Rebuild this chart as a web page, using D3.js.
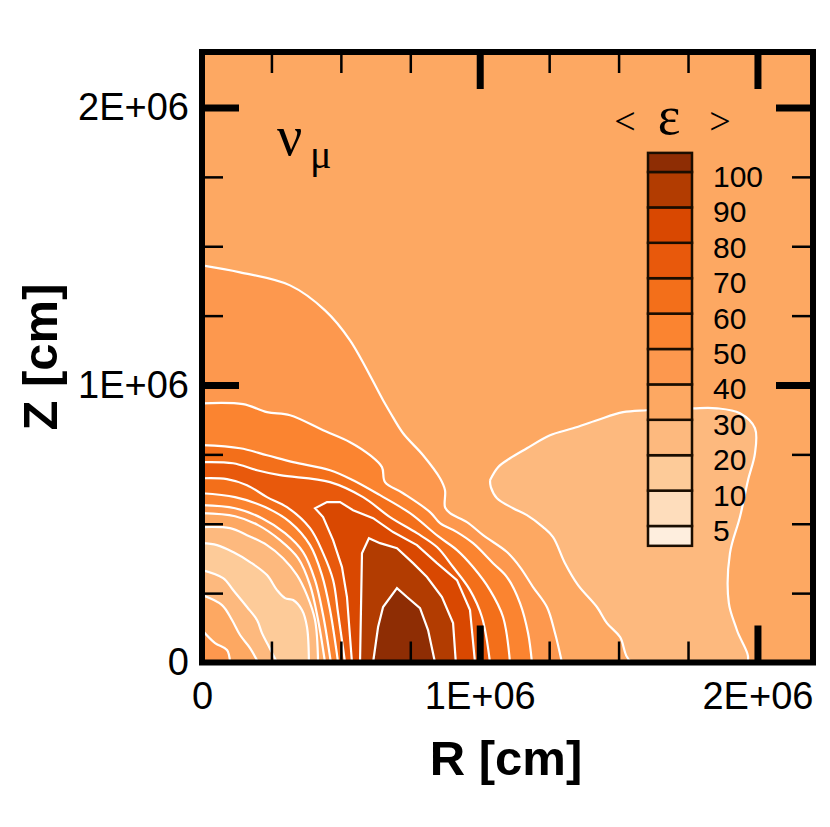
<!DOCTYPE html>
<html>
<head>
<meta charset="utf-8">
<script src="https://cdn.jsdelivr.net/npm/d3@7"></script>
<style>
  html, body { margin: 0; padding: 0; background: #fff; }
  svg { display: block; }
  text { font-family: "Liberation Sans", Arial, sans-serif; fill: #000; }
</style>
</head>
<body>
<div id="chart"></div>
<script>
// all contour points are [R, Z] in units of 1E+04 cm
var contour40Outer = [[0,143.1],[13.7,140.6],[31.7,135.9],[44.3,126.9],[53.3,116.1],[65.2,94.5],[67.7,90.2],[72.4,82.6],[79.6,74.7],[85.7,66.4],[87.5,62.1],[87.5,56],[89.3,53.8],[95.4,50.6],[101.2,45.9],[109.8,39.8],[114.5,34.4],[119.2,27.2],[124.2,20],[127.1,10.6],[129.6,0]];
var contour50Outer = [[0,93.4],[14.8,93.1],[23.4,90.2],[31.7,89.1],[43.6,83.7],[53.3,79.4],[60.5,74.7],[64.8,70.4],[65.9,65],[72.4,61],[82.1,54.2],[85.7,50.2],[91.8,47],[97.6,43],[104.8,35.8],[109.8,30.8],[114.5,21.4],[117.4,10.6],[118.8,0]];
var contour60Outer = [[0,78.3],[13.7,77.2],[23.4,74.7],[32.8,72.2],[46.1,69.3],[54.4,65.7],[64.1,60.3],[74.9,53.8],[85,45.5],[91.8,40.5],[97.6,34.4],[103.7,26.1],[108.4,16.4],[110.9,0]];
var contour70Outer = [[0,72.2],[11.2,71.8],[19.8,69.3],[28.1,67.5],[46.1,65],[58,59.6],[67.7,52.4],[77.4,46.6],[84.6,41.6],[90.4,34.4],[96.5,26.1],[100.8,16.4],[103.7,0]];
var contour70Inner = [[0,66.4],[9,66.1],[16.2,63.9],[23.4,59.6],[30.6,56],[38.9,48.4],[43.6,39.4],[47.2,29.7],[49,17.8],[51.5,0]];
var contour60Inner = [[0,61],[11.9,59.6],[22.7,56],[31.7,50.6],[38.9,42.3],[43.2,31.5],[46.1,18.9],[49,0]];
var contour50Inner = [[0,56.7],[11.9,55.6],[21.6,52],[29.9,46.6],[36.4,39.8],[40.7,29.7],[43.6,17.1],[46.4,0]];
var contour40Inner = [[0,53.8],[11.9,52.7],[20.2,49.5],[28.1,44.1],[34.6,37.6],[38.9,27.9],[41.8,15.3],[44.3,0]];
var contour30Inner = [[0,48.8],[10.1,48.4],[16.2,45.9],[23.4,42.3],[29.2,37.6],[34.2,31.5],[37.8,24.3],[40.7,15.3],[41.8,0]];
var contour20Inner = [[0,43],[5.4,42.3],[11.2,39.8],[17.3,36.2],[23.4,31.5],[27,26.1],[29.9,23.2],[32.8,22.5],[36,18.9],[37.8,12.8],[38.5,0]];
var contour20Core = [[0,33.3],[7.6,30.4],[11.2,26.1],[16.2,20],[19.8,15.3],[21.6,10.6],[23.8,6.3],[27,0]];
var contour30Core = [[0,24.3],[7.2,20.7],[10.8,15.3],[13.7,9.9],[17.3,5.2],[20.2,0]];
var contour40Core = [[0,11.7],[4.7,7],[9,4.5],[10.1,0]];
var contour80 = [[54,0],[52.2,23.6],[50.4,34.4],[47.2,44.1],[43.6,52.4],[40.7,55.6],[45,57.8],[49.7,57.8],[54.4,54.9],[61.6,52],[68.8,47],[77.4,42.3],[84.6,35.8],[91.8,29.7],[96.5,18.9],[98.3,0]];
var contour90 = [[56.9,0],[57.6,39.4],[60.1,44.8],[64.1,43],[70.2,41.2],[76,35.8],[81,30.8],[86.4,23.6],[90.4,14.2],[91.4,0]];
var contour100 = [[61.6,0],[63.4,12.8],[65.2,20],[70.2,26.8],[73.8,23.6],[78.5,19.6],[81.4,11.7],[83.9,0]];
var contour30Island = [[103.7,65.7],[106.6,70.4],[110.9,73.6],[117,77.2],[125.3,81.9],[133.6,84.4],[142.2,87.3],[151.6,90.2],[160.2,90.9],[176.8,91.6],[185.4,91.6],[193.7,89.8],[199.1,84.4],[199.1,75.4],[196.6,65.7],[193.7,52.4],[190.1,39.4],[189.7,21.4],[192.6,11.7],[196.2,0],[154.8,0],[150.5,9.2],[145.8,14.2],[142.2,20],[135.4,27.9],[130.7,35.8],[126.4,45.2],[122.8,48.8],[117,53.1],[112,55.6],[106.2,59.2],[104,63.2],[103.7,65.7]];

// colour bar, bottom to top
var levels = [5, 10, 20, 30, 40, 50, 60, 70, 80, 90, 100];
var bandColors = ['#feeede', '#feddbc', '#fdcb99', '#fdb97e', '#fda862', '#fd984e', '#fb8430', '#f36f1a', '#e8590c', '#d94801', '#b23c01', '#8e2d04'];

var majorTicks = [100, 200];
var minorTicks = [25, 50, 75, 125, 150, 175];
var labelTicks = [0, 100, 200];
var tickLabels = ['0', '1E+06', '2E+06'];

var svgWidth = 830;
var svgHeight = 827;
var plot = { left: 202, right: 813, top: 52, bottom: 662.5 };

var xScale = d3.scaleLinear().domain([0, 220]).range([plot.left, plot.right]);
var yScale = d3.scaleLinear().domain([0, 220]).range([plot.bottom, plot.top]);

var svg = d3.select('#chart')
  .append('svg')
  .attr('width', svgWidth)
  .attr('height', svgHeight);

svg.append('clipPath').attr('id', 'plotClip')
  .append('rect')
  .attr('x', plot.left)
  .attr('y', plot.top)
  .attr('width', plot.right - plot.left)
  .attr('height', plot.bottom - plot.top);

var field = svg.append('g').attr('clip-path', 'url(#plotClip)');

// background band is 30-40
field.append('rect')
  .attr('x', plot.left)
  .attr('y', plot.top)
  .attr('width', plot.right - plot.left)
  .attr('height', plot.bottom - plot.top)
  .attr('fill', bandColors[4]);

var roundLine = d3.line().x(d => xScale(d[0])).y(d => yScale(d[1])).curve(d3.curveCatmullRom.alpha(0.5));
var sharpLine = d3.line().x(d => xScale(d[0])).y(d => yScale(d[1]));

// painted from the outside in, the outer contours close at the origin
function drawRegion(points, band, closeAtOrigin, lineGen) {
  var outline = lineGen(points);
  var ring = closeAtOrigin ? outline + `L${xScale(0)},${yScale(0)}Z` : outline + 'Z';
  field.append('path')
    .attr('d', ring)
    .attr('fill', bandColors[band]);
  field.append('path')
    .attr('d', outline)
    .attr('fill', 'none')
    .attr('stroke', '#fff')
    .attr('stroke-width', 2.2);
}

drawRegion(contour40Outer, 5, true, roundLine);
drawRegion(contour50Outer, 6, true, roundLine);
drawRegion(contour60Outer, 7, true, roundLine);
drawRegion(contour70Outer, 8, true, roundLine);
drawRegion(contour70Inner, 7, true, roundLine);
drawRegion(contour60Inner, 6, true, roundLine);
drawRegion(contour50Inner, 5, true, roundLine);
drawRegion(contour40Inner, 4, true, roundLine);
drawRegion(contour30Inner, 3, true, roundLine);
drawRegion(contour20Inner, 2, true, roundLine);
drawRegion(contour20Core, 3, true, roundLine);
drawRegion(contour30Core, 4, true, roundLine);
drawRegion(contour40Core, 5, true, roundLine);
drawRegion(contour80, 9, false, sharpLine);
drawRegion(contour90, 10, false, sharpLine);
drawRegion(contour100, 11, false, sharpLine);
drawRegion(contour30Island, 3, false, roundLine);

// ticks point inward on all four sides
function drawTicks(axis, translate, values, size, width) {
  var g = svg.append('g')
    .attr('transform', translate)
    .call(axis.tickValues(values).tickSize(-size).tickFormat(''));
  g.select('.domain').remove();
  g.selectAll('line').attr('stroke', '#000').attr('stroke-width', width);
}

var sides = [
  [d3.axisBottom(xScale), `translate(0, ${plot.bottom})`],
  [d3.axisTop(xScale), `translate(0, ${plot.top})`],
  [d3.axisLeft(yScale), `translate(${plot.left}, 0)`],
  [d3.axisRight(yScale), `translate(${plot.right}, 0)`]
];
sides.forEach(function(side) {
  drawTicks(side[0], side[1], minorTicks, 21, 2.5);
  drawTicks(side[0], side[1], majorTicks, 37, 7);
});

svg.append('rect')
  .attr('x', plot.left)
  .attr('y', plot.top)
  .attr('width', plot.right - plot.left)
  .attr('height', plot.bottom - plot.top)
  .attr('fill', 'none')
  .attr('stroke', '#000')
  .attr('stroke-width', 6);

// tick labels
var xLabels = svg.append('g')
  .attr('transform', `translate(0, ${plot.bottom})`)
  .call(d3.axisBottom(xScale).tickValues(labelTicks).tickSize(0).tickPadding(20)
    .tickFormat((d, i) => tickLabels[i]));
var yLabels = svg.append('g')
  .attr('transform', `translate(${plot.left}, 0)`)
  .call(d3.axisLeft(yScale).tickValues(labelTicks).tickSize(0).tickPadding(13)
    .tickFormat((d, i) => tickLabels[i]));
[xLabels, yLabels].forEach(function(g) {
  g.select('.domain').remove();
  g.selectAll('text')
    .style('font-family', '"Liberation Sans", Arial, sans-serif')
    .style('font-size', '38px');
});

// axis titles
svg.append('text')
  .attr('x', 506)
  .attr('y', 775)
  .attr('text-anchor', 'middle')
  .style('font-size', '49px')
  .style('font-weight', 'bold')
  .text('R [cm]');

svg.append('text')
  .attr('transform', 'translate(57, 357) rotate(-90)')
  .attr('text-anchor', 'middle')
  .style('font-size', '49px')
  .style('font-weight', 'bold')
  .text('Z [cm]');

// species label
svg.append('text')
  .attr('x', 277)
  .attr('y', 155)
  .style('font-family', '"Liberation Serif", serif')
  .style('font-size', '56px')
  .text('ν');
svg.append('text')
  .attr('x', 310)
  .attr('y', 168)
  .style('font-family', '"Liberation Serif", serif')
  .style('font-size', '40px')
  .text('μ');

// colour bar
var barLeft = 648;
var barWidth = 44;
var barScale = d3.scalePoint().domain(levels).range([526, 172]);
var barStep = barScale.step();
var barEdges = [526 + barStep * 0.56].concat(levels.map(d => barScale(d))).concat([172 - barStep * 0.54]);

svg.append('g')
  .selectAll('rect')
  .data(bandColors)
  .enter()
  .append('rect')
  .attr('x', barLeft)
  .attr('y', (d, i) => barEdges[i + 1])
  .attr('width', barWidth)
  .attr('height', (d, i) => barEdges[i] - barEdges[i + 1])
  .attr('fill', d => d)
  .attr('stroke', '#1a0d00')
  .attr('stroke-width', 2.5);

svg.append('g')
  .selectAll('text')
  .data(levels)
  .enter()
  .append('text')
  .attr('x', 713)
  .attr('y', d => barScale(d) + 15)
  .style('font-size', '30px')
  .text(d => d);

var legendTitle = [['<', 625, 38], ['ε', 669, 54], ['>', 720, 38]];
svg.append('g')
  .selectAll('text')
  .data(legendTitle)
  .enter()
  .append('text')
  .attr('x', d => d[1])
  .attr('y', 134)
  .attr('text-anchor', 'middle')
  .style('font-family', '"Liberation Serif", serif')
  .style('font-size', d => d[2] + 'px')
  .text(d => d[0]);
</script>
</body>
</html>
